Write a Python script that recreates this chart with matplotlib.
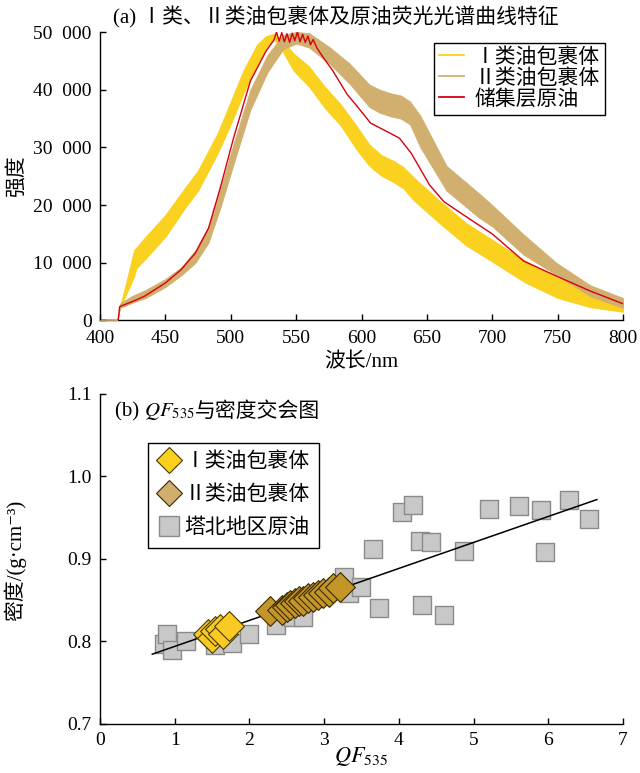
import numpy as np
import matplotlib
matplotlib.use('Agg')
import matplotlib.pyplot as plt
from matplotlib.lines import Line2D
from matplotlib.ticker import FuncFormatter, MultipleLocator
from matplotlib.offsetbox import TextArea, HPacker, AnchoredOffsetbox

plt.rcParams['font.family'] = ['Liberation Serif', 'Noto Sans CJK SC', 'DejaVu Sans']
plt.rcParams['mathtext.fontset'] = 'stix'
plt.rcParams['font.size'] = 14
plt.rcParams['axes.linewidth'] = 1.0

# ---- (a) fluorescence spectra: envelope of type I / type II inclusions, crude oil line
wl_1 = [400, 413, 415.5, 421, 426, 428, 434, 450, 465, 475, 490, 500, 510, 520, 527, 533,
        540, 548, 560, 572, 584, 596, 606, 615, 625, 632, 640, 660, 680, 700, 725, 750, 775, 800]
hi_1 = [0, 0, 2600, 7500, 12200, 12700, 14300, 18300, 23000, 26000, 32500, 38000, 43500,
        47800, 49300, 49700, 48500, 46300, 44000, 40500, 37500, 33800, 30500, 28700, 27600,
        26600, 24800, 20700, 16900, 14000, 10400, 7400, 5200, 3300]
lo_1 = [0, 0, 2300, 5000, 7600, 9100, 10500, 14500, 19500, 22500, 29000, 34000, 39500,
        44300, 47300, 48800, 46500, 43300, 40500, 36800, 33800, 29700, 26800, 25100, 23900,
        22900, 20800, 16800, 13000, 10200, 6600, 3900, 2300, 1500]

wl_2 = [400, 413, 415.5, 425, 435, 450, 462, 473, 483, 492, 502, 515, 528, 540, 550, 560,
        576, 591, 606, 614, 622, 630, 637, 645, 665, 690, 700, 724, 749, 775, 800]
hi_2 = [0, 0, 3000, 4300, 5300, 7200, 9200, 12200, 16300, 22800, 30500, 40000, 46000, 49500,
        50000, 49800, 47300, 44500, 40900, 40000, 39400, 39000, 38000, 35500, 26800, 22000,
        20000, 14900, 10000, 6100, 3900]
lo_2 = [0, 0, 2200, 3100, 3900, 5800, 7800, 10000, 13500, 19500, 27000, 36500, 43000, 47000,
        48000, 47300, 44400, 41000, 37000, 36000, 35400, 35000, 34000, 30000, 22500, 17800,
        16300, 11400, 7900, 4200, 2200]

wl_oil = [400, 414, 415, 425, 434, 450, 462, 473, 483, 492, 502, 515, 527, 533, 535, 537,
          539, 541, 543, 545, 547, 549, 551, 553, 555, 557, 559, 561, 563, 566, 571, 578,
          589, 596, 607, 619, 629, 638, 652, 663, 678, 700, 724, 749, 775, 800]
int_oil = [0, 0, 2400, 3300, 4200, 6500, 8800, 11700, 16000, 23000, 31500, 41500, 46700,
           48600, 50000, 48400, 49900, 48300, 49700, 48200, 49800, 48500, 50000, 48300,
           49600, 48200, 49300, 47800, 48700, 47200, 45500, 43300, 39200, 37300, 34200,
           32800, 31600, 29000, 23500, 20600, 18300, 15000, 10300, 7700, 5100, 2900]

# ---- (b) QF535 vs density
qf_1 = [1.45, 1.50, 1.54, 1.61, 1.65, 1.72]
rho_1 = [0.808, 0.804, 0.812, 0.814, 0.808, 0.818]
qf_2 = [2.27, 2.43, 2.50, 2.54, 2.61, 2.66, 2.72, 2.79, 2.85, 2.92, 2.99, 3.06, 3.12, 3.21]
rho_2 = [0.836, 0.838, 0.841, 0.844, 0.846, 0.848, 0.848, 0.852, 0.853, 0.856, 0.858, 0.860,
         0.864, 0.866]
qf_oil = [0.85, 0.90, 0.97, 1.15, 1.54, 1.77, 2.00, 2.36, 2.58, 2.72, 3.26, 3.33, 3.49, 3.65,
          3.73, 4.04, 4.19, 4.28, 4.43, 4.31, 4.60, 4.87, 5.20, 5.61, 5.90, 5.96, 6.28, 6.55]
rho_oil = [0.797, 0.808, 0.789, 0.800, 0.795, 0.798, 0.809, 0.819, 0.829, 0.829, 0.878,
           0.858, 0.865, 0.912, 0.840, 0.956, 0.965, 0.921, 0.920, 0.844, 0.831, 0.909,
           0.960, 0.964, 0.959, 0.908, 0.971, 0.948]
fit_coef = [0.0315, 0.762]
fit_range = [0.7, 6.65]

c1 = '#F9D11E'
c2 = '#D1AF6E'
c_oil = '#D8000E'
fs = 15

fig = plt.figure(figsize=(6.4, 7.73), dpi=100)

# ================= (a)
ax1 = fig.add_axes([0.15625, 0.5854, 0.8172, 0.3732])
ax1.fill_between(wl_1, lo_1, hi_1, color=c1, lw=0.6, zorder=2)
ax1.fill_between(wl_2, lo_2, hi_2, color=c2, lw=0.6, zorder=3)
ax1.plot(wl_oil, int_oil, color=c_oil, lw=1.0, zorder=4)

ax1.set_xlim(400, 800)
ax1.set_ylim(0, 50000)
ax1.xaxis.set_major_locator(MultipleLocator(50))
ax1.yaxis.set_major_locator(MultipleLocator(10000))
ax1.yaxis.set_major_formatter(FuncFormatter(lambda v, p: f'{int(v):,}'.replace(',', '  ')))
ax1.spines['top'].set_visible(False)
ax1.spines['right'].set_visible(False)
ax1.tick_params(direction='in', length=4, width=1, labelsize=14)
ax1.tick_params(axis='x', pad=7)
ax1.tick_params(axis='y', pad=6)
ax1.set_xlabel('波长/nm', fontsize=fs)
ax1.xaxis.set_label_coords(0.5, -0.112)
ax1.set_ylabel('强度', fontsize=fs)
ax1.yaxis.set_label_coords(-0.14, 0.5)

handles_a = [Line2D([], [], color=c1, lw=1.3),
             Line2D([], [], color=c2, lw=1.3),
             Line2D([], [], color=c_oil, lw=1.3)]
leg = ax1.legend(handles_a, ['Ⅰ类油包裹体', 'Ⅱ类油包裹体', '储集层原油'],
                 loc='upper right', bbox_to_anchor=(0.966, 0.962), borderaxespad=0,
                 fancybox=False, edgecolor='black', framealpha=1, fontsize=fs,
                 handlelength=1.2, handletextpad=0.5, labelspacing=0.06,
                 borderpad=0.25)
leg.get_frame().set_linewidth(1.0)

fig.text(113 / 640, 1 - 17 / 773, '(a) Ⅰ类、Ⅱ类油包裹体及原油荧光光谱曲线特征',
         fontsize=fs, va='center', ha='left')

# ================= (b)
ax2 = fig.add_axes([0.15625, 0.0640, 0.8172, 0.4269])
ax2.scatter(qf_oil, rho_oil, marker='s', s=170, facecolor='#C8C8C8',
            edgecolor='#8A8A8A', linewidth=1.0, zorder=2)
fx = np.array(fit_range)
ax2.plot(fx, np.polyval(fit_coef, fx), color='black', lw=1.1, zorder=3)
ax2.scatter(qf_1, rho_1, marker='D', s=230, facecolor='#F9C924',
            edgecolor='#4A3A00', linewidth=0.8, zorder=4)
ax2.scatter(qf_2, rho_2, marker='D', s=230, facecolor='#C4962A',
            edgecolor='#3A2A00', linewidth=0.8, zorder=5)

ax2.set_xlim(0, 7)
ax2.set_ylim(0.7, 1.1)
ax2.xaxis.set_major_locator(MultipleLocator(1))
ax2.yaxis.set_major_locator(MultipleLocator(0.1))
ax2.yaxis.set_major_formatter(FuncFormatter(lambda v, p: f'{v:.1f}'))
ax2.spines['top'].set_visible(False)
ax2.spines['right'].set_visible(False)
ax2.tick_params(direction='in', length=4, width=1, labelsize=14)
ax2.tick_params(axis='x', pad=6)
ax2.tick_params(axis='y', pad=6)
ax2.set_xlabel('$QF_{535}$', fontsize=16)
ax2.xaxis.set_label_coords(0.5, -0.064)
ax2.set_ylabel('密度/(g·cm⁻³)', fontsize=fs)
ax2.yaxis.set_label_coords(-0.141, 0.495)

handles_b = [Line2D([], [], marker='D', ls='none', ms=13, mfc='#F9D01E', mec='#4A3A00', mew=0.8),
             Line2D([], [], marker='D', ls='none', ms=13, mfc='#CFAE6E', mec='#3A2A00', mew=0.8),
             Line2D([], [], marker='s', ls='none', ms=15, mfc='#C8C8C8', mec='#8A8A8A', mew=1.0)]
leg2 = ax2.legend(handles_b, ['Ⅰ类油包裹体', 'Ⅱ类油包裹体', '塔北地区原油'],
                  loc='upper left', bbox_to_anchor=(0.092, 0.85), borderaxespad=0,
                  fancybox=False, edgecolor='black', framealpha=1, fontsize=fs,
                  handlelength=1.1, handletextpad=0.2, labelspacing=0.65,
                  borderpad=0.45)
leg2.get_frame().set_linewidth(1.0)

parts = HPacker(children=[TextArea('(b) ', textprops=dict(fontsize=fs)),
                          TextArea('$QF_{535}$', textprops=dict(fontsize=fs)),
                          TextArea('与密度交会图', textprops=dict(fontsize=fs))],
                align='baseline', pad=0, sep=0)
title_b = AnchoredOffsetbox(loc='center left', child=parts, pad=0, borderpad=0,
                            bbox_to_anchor=(115 / 640, 1 - 412 / 773),
                            bbox_transform=fig.transFigure, frameon=False)
ax2.add_artist(title_b)

fig.savefig('out.png', dpi=100)
